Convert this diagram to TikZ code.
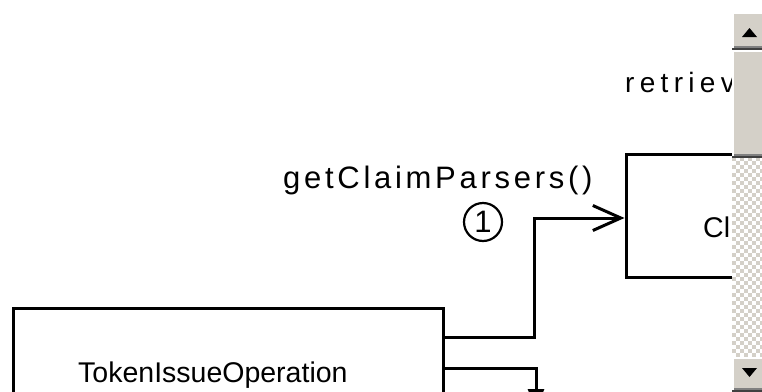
\documentclass[tikz,border=0pt]{standalone}
\usepackage{fontspec}
\setmainfont{Liberation Sans}
\newfontfamily\spacedfont[LetterSpace=19]{Liberation Sans}
\newfontfamily\spacedfontb[LetterSpace=12]{Liberation Sans}
\usetikzlibrary{arrows.meta}
\definecolor{sbface}{HTML}{D4D0C8}
\definecolor{sbdark}{HTML}{404040}
\definecolor{sbshadow}{HTML}{808080}
\newcommand\sbbutton[2]{%
  \fill[sbface] (732,#1) rectangle (766,#2);
  \fill[white] (732,#1) rectangle (734,#2);
  \fill[white] (732,#1) rectangle (766,{#1+2});
  \fill[sbshadow] (734,{#2-4}) rectangle (766,{#2-2});
  \fill[sbdark] (732,{#2-2}) rectangle (766,#2);
}
\begin{document}
\begin{tikzpicture}[x=1pt,y=-1pt,
  box/.style={draw, line width=3pt, inner sep=0pt},
  conn/.style={line width=3pt},
  lbl/.style={inner sep=0pt, font=\fontsize{28.5}{30}\selectfont},
  slbl/.style={inner sep=0pt, font=\spacedfont\fontsize{28}{30}\selectfont},
  slblb/.style={inner sep=0pt, font=\spacedfontb\fontsize{31}{33}\selectfont},
]
\useasboundingbox (0,0) rectangle (762,391);
\clip (0,0) rectangle (762,391);
\fill[white] (0,0) rectangle (762,391);

% boxes
\node[box, minimum width=430pt, minimum height=128pt] (tio) at (228,372) {};
\node[lbl, anchor=base west] (tiot) at (78,382) {TokenIssueOperation};
\node[box, minimum width=180pt, minimum height=123pt] (cp) at (716,215.5) {};
\node[lbl, anchor=base west] (cpt) at (703,237) {Cl};

% labels
\node[slblb, anchor=base west] (gcp) at (283,188) {getClaimParsers()};
\node[slbl, anchor=base west] (ret) at (625,92) {retriev};
\node[draw, circle, line width=2.2pt, minimum size=38pt, inner sep=0pt,
      font=\fontsize{31}{31}\selectfont] (n1) at (483,222) {1};

% connectors
\draw[conn, -{Straight Barb[length=28pt,width=25pt]}]
  ([yshift=-31pt]tio.north east) -| ([xshift=-90pt,yshift=-2.5pt]cp.west)
  -- ([yshift=-2.5pt]cp.west);
\coordinate (c2end) at (536,409);
\draw[conn, -{Triangle[open,length=20pt,width=16pt]}]
  ([yshift=-62pt]tio.north east) -| (c2end);

% scrollbar
\fill[white] (732,157) rectangle (766,357);
\foreach \i in {0,...,8}{\foreach \j in {0,...,49}{
  \pgfmathtruncatemacro{\p}{mod(\i+\j,2)}
  \ifnum\p=0 \fill[sbface] ({732+4*\i},{157+4*\j}) rectangle ++(4,4);\fi
}}
\sbbutton{12}{50}
\sbbutton{50}{158}
\sbbutton{357}{392}
\fill (742,37) -- (757,37) -- (749.5,28) -- cycle;
\fill (742,368) -- (757,368) -- (749.5,377) -- cycle;
\end{tikzpicture}
\end{document}
